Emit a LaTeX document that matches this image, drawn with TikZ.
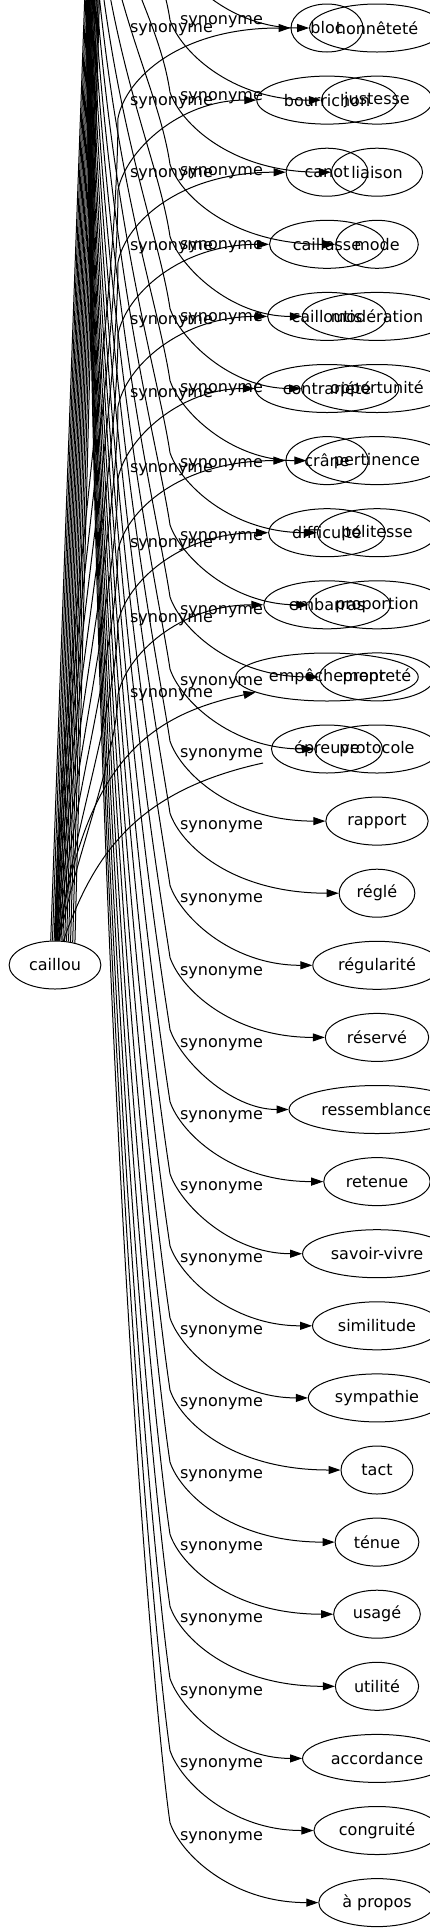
\documentclass[tikz,border=0pt]{standalone}
\usepackage{fontspec}
\setmainfont{DejaVu Sans}
\usetikzlibrary{shapes.geometric,arrows.meta}

\tikzset{
  word/.style={draw, ellipse, inner xsep=6.5pt, inner ysep=0pt,
    minimum height=48pt, minimum width=72pt, font=\fontsize{16}{19}\selectfont},
  syn/.style={inner sep=0pt, font=\fontsize{16}{19}\selectfont},
}

\begin{document}
\begin{tikzpicture}[x=1pt, y=-1pt, line width=1pt, >={Triangle[length=12pt,width=8pt]}]
            \useasboundingbox (0,0) rectangle (430,1931);
            \clip (0,0) rectangle (430,1931);

            \node[word] (cail) at (55,965) {caillou};
            % source of the second graph lies above the picture
            \coordinate (conv) at (85,-300);

            % caillou: edges that leave through the top
            \foreach \a [count=\i] in {100,96,92,88,84,80,76,72,68,64,60,56,52,48}
                \coordinate (up\i) at ({85+1.1*\i},-40);
            \foreach \a [count=\i] in {100,96,92,88,84,80,76,72,68,64,60,56,52,48}
                \draw (cail.\a) -- (up\i);

            % caillou: targets bloc ... embarras
            \foreach \name/\word [count=\j from 0] in {bloc/bloc, bourrichon/bourrichon,
                canot/canot, caillasse/caillasse, cailloutis/cailloutis,
                contrariete/contrariété, crane/crâne, difficulte/difficulté, embarras/embarras}{
                \pgfmathsetmacro{\yy}{28+72.1*\j}
                \node[word] (\name) at (327,\yy) {\word};
                \draw[->] (cail) .. controls ({58+2*\j},{942-0.33*(852-\yy)})
                    and (117,{\yy+90+0.25*(852-\yy)}) .. (118,{\yy+90})
                    .. controls (126,{\yy+50}) and (180,\yy) .. (\name);
            }
            \node[word] (empechement) at (327,677) {empêchement};
            \node[word] (epreuve) at (327,749) {épreuve};
            \coordinate (epreuve-end) at (263,763);
            \draw[->] (cail) .. controls (85,760) and (150,715) .. (empechement);
            \draw (cail) .. controls (95,850) and (140,790) .. (epreuve-end);

            % second graph: targets honnêteté ... à propos
            \foreach \name/\word [count=\k from 0] in {honnetete/honnêteté, justesse/justesse,
                liaison/liaison, mode/mode, moderation/modération, opportunite/opportunité,
                pertinence/pertinence, politesse/politesse, proportion/proportion,
                proprete/propreté, protocole/protocole, rapport/rapport, regle/réglé,
                regularite/régularité, reserve/réservé, ressemblance/ressemblance,
                retenue/retenue, savoirvivre/savoir-vivre, similitude/similitude,
                sympathie/sympathie, tact/tact, tenue/ténue, usage/usagé, utilite/utilité,
                accordance/accordance, congruite/congruité, apropos/à propos}{
                \pgfmathsetmacro{\yy}{28+72.1*\k}
                \node[word] (\name) at (377,\yy) {\word};
                \draw[->] (conv) .. controls (85,{-300+0.6*(\yy+220)})
                    and (155,{\yy-180}) .. (170,{\yy-80})
                    .. controls (180,{\yy-50}) and (230,\yy) .. (\name);
            }

            % edge labels
            \foreach \yl [count=\i] in {30,103,175,248,322,395,470,545,620,695}
                \node[syn] (syn-a\i) at (171.5,\yl) {synonyme};
            \foreach \yl [count=\i] in {22,98,173,247,319,390,465,538,612,683,755,827,900,
                973,1045,1117,1188,1260,1332,1404,1476,1548,1620,1693,1765,1838}
                \node[syn] (syn-b\i) at (221.5,\yl) {synonyme};
        \end{tikzpicture}
\end{document}
